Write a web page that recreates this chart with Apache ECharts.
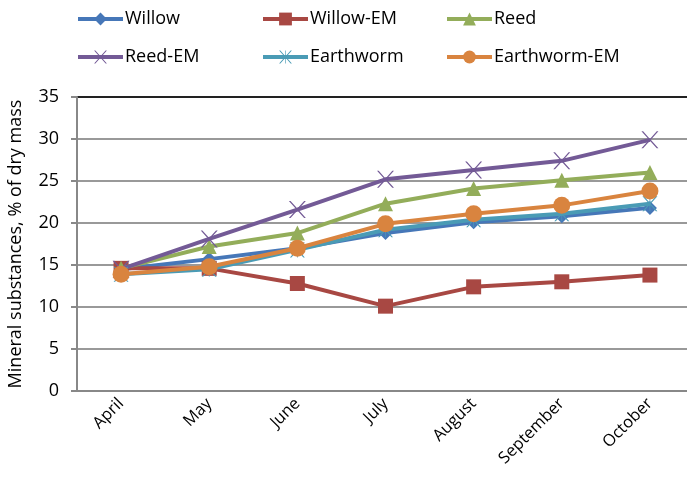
<!DOCTYPE html>
<html>
<head>
<meta charset="utf-8">
<script src="https://cdn.jsdelivr.net/npm/echarts@6/dist/echarts.min.js"></script>
<style>
  html, body { margin: 0; padding: 0; background: #fff; }
  #chart { width: 687px; height: 483px; }
</style>
</head>
<body>
<div id="chart"></div>
<script>
// data
var months = ['April', 'May', 'June', 'July', 'August', 'September', 'October'];
var willow = [14.5, 15.7, 17.0, 18.8, 20.1, 20.8, 21.8];
var willowEM = [14.6, 14.6, 12.8, 10.1, 12.4, 13.0, 13.8];
var reed = [14.6, 17.2, 18.8, 22.3, 24.1, 25.1, 26.0];
var reedEM = [14.5, 18.1, 21.6, 25.2, 26.3, 27.4, 29.9];
var earthworm = [13.9, 14.5, 16.8, 19.2, 20.4, 21.1, 22.3];
var earthwormEM = [13.9, 14.8, 17.0, 19.9, 21.1, 22.1, 23.8];
var yTicks = [0, 5, 10, 15, 20, 25, 30, 35];

var names = ['Willow', 'Willow-EM', 'Reed', 'Reed-EM', 'Earthworm', 'Earthworm-EM'];
var colors = ['#4677b8', '#a84843', '#93ad5a', '#735a96', '#4a9bb5', '#d9843f'];

var crossPath = 'path://M0,0 L2,0 L10,8 L18,0 L20,0 L11,9 L20,18 L18,18 L10,10 L2,18 L0,18 L9,9 Z';
var starPath = 'path://M0,0 L2,0 L9.5,7.5 L9.5,0 L10.5,0 L10.5,7.5 L18,0 L20,0 L11,9 L20,18 L18,18 L10.5,10.5 L10.5,18 L9.5,18 L9.5,10.5 L2,18 L0,18 L9,9 Z';
var symbols = ['diamond', 'rect', 'triangle', crossPath, starPath, 'circle'];
var symbolSizes = [14, 15, 15, 17, 15, 17];
var seriesData = [willow, willowEM, reed, reedEM, earthworm, earthwormEM];

var chart = echarts.init(document.getElementById('chart'));

var series = [];
for (var i = 0; i < names.length; i++) {
    series.push({
        name: names[i],
        type: 'line',
        data: seriesData[i],
        symbol: symbols[i],
        symbolSize: symbolSizes[i],
        showAllSymbol: true,
        lineStyle: { color: colors[i], width: 4 },
        itemStyle: { color: colors[i], borderWidth: 0 },
        emphasis: { disabled: true },
        animation: false,
        z: 2 + i
    });
}

// legend: 3 columns x 2 rows
var legendPos = [
    [76, 10], [261, 10], [445, 10],
    [76, 48], [261, 48], [445, 48]
];
var legends = [];
for (var j = 0; j < names.length; j++) {
    legends.push({
        data: [names[j]],
        left: legendPos[j][0],
        top: legendPos[j][1],
        itemWidth: 45,
        itemHeight: 16,
        itemGap: 4,
        padding: 0,
        selectedMode: false,
        itemStyle: { borderWidth: 0 },
        lineStyle: { width: 4 },
        textStyle: { fontFamily: 'Open Sans', fontSize: 18, color: '#000', padding: [0, 0, 0, -3] }
    });
}

var gridColors = ['#999', '#999', '#999', '#999', '#999', '#999', '#999', '#222'];

var option = {
    backgroundColor: '#fff',
    color: colors,
    legend: legends,
    grid: { left: 77, top: 97, width: 617, height: 294, containLabel: false, outerBoundsMode: 'none' },
    xAxis: {
        type: 'category',
        data: months,
        boundaryGap: true,
        axisLine: { lineStyle: { color: '#888', width: 2 } },
        axisTick: { show: false },
        axisLabel: { rotate: 45, fontFamily: 'Open Sans', fontSize: 16.5, color: '#000', margin: 10 }
    },
    yAxis: {
        type: 'value',
        min: yTicks[0],
        max: yTicks[yTicks.length - 1],
        interval: 5,
        name: 'Mineral substances, % of dry mass',
        nameLocation: 'middle',
        nameGap: 52,
        nameTextStyle: { fontFamily: 'Open Sans', fontSize: 18, color: '#000' },
        axisLine: { show: true, lineStyle: { color: '#888', width: 2 } },
        axisTick: { show: true, length: 6, lineStyle: { color: '#888', width: 2 } },
        axisLabel: { fontFamily: 'Open Sans', fontSize: 18, color: '#000', margin: 18 },
        splitLine: { lineStyle: { color: gridColors, width: 2 } }
    },
    series: series
};

chart.setOption(option);
</script>
</body>
</html>
